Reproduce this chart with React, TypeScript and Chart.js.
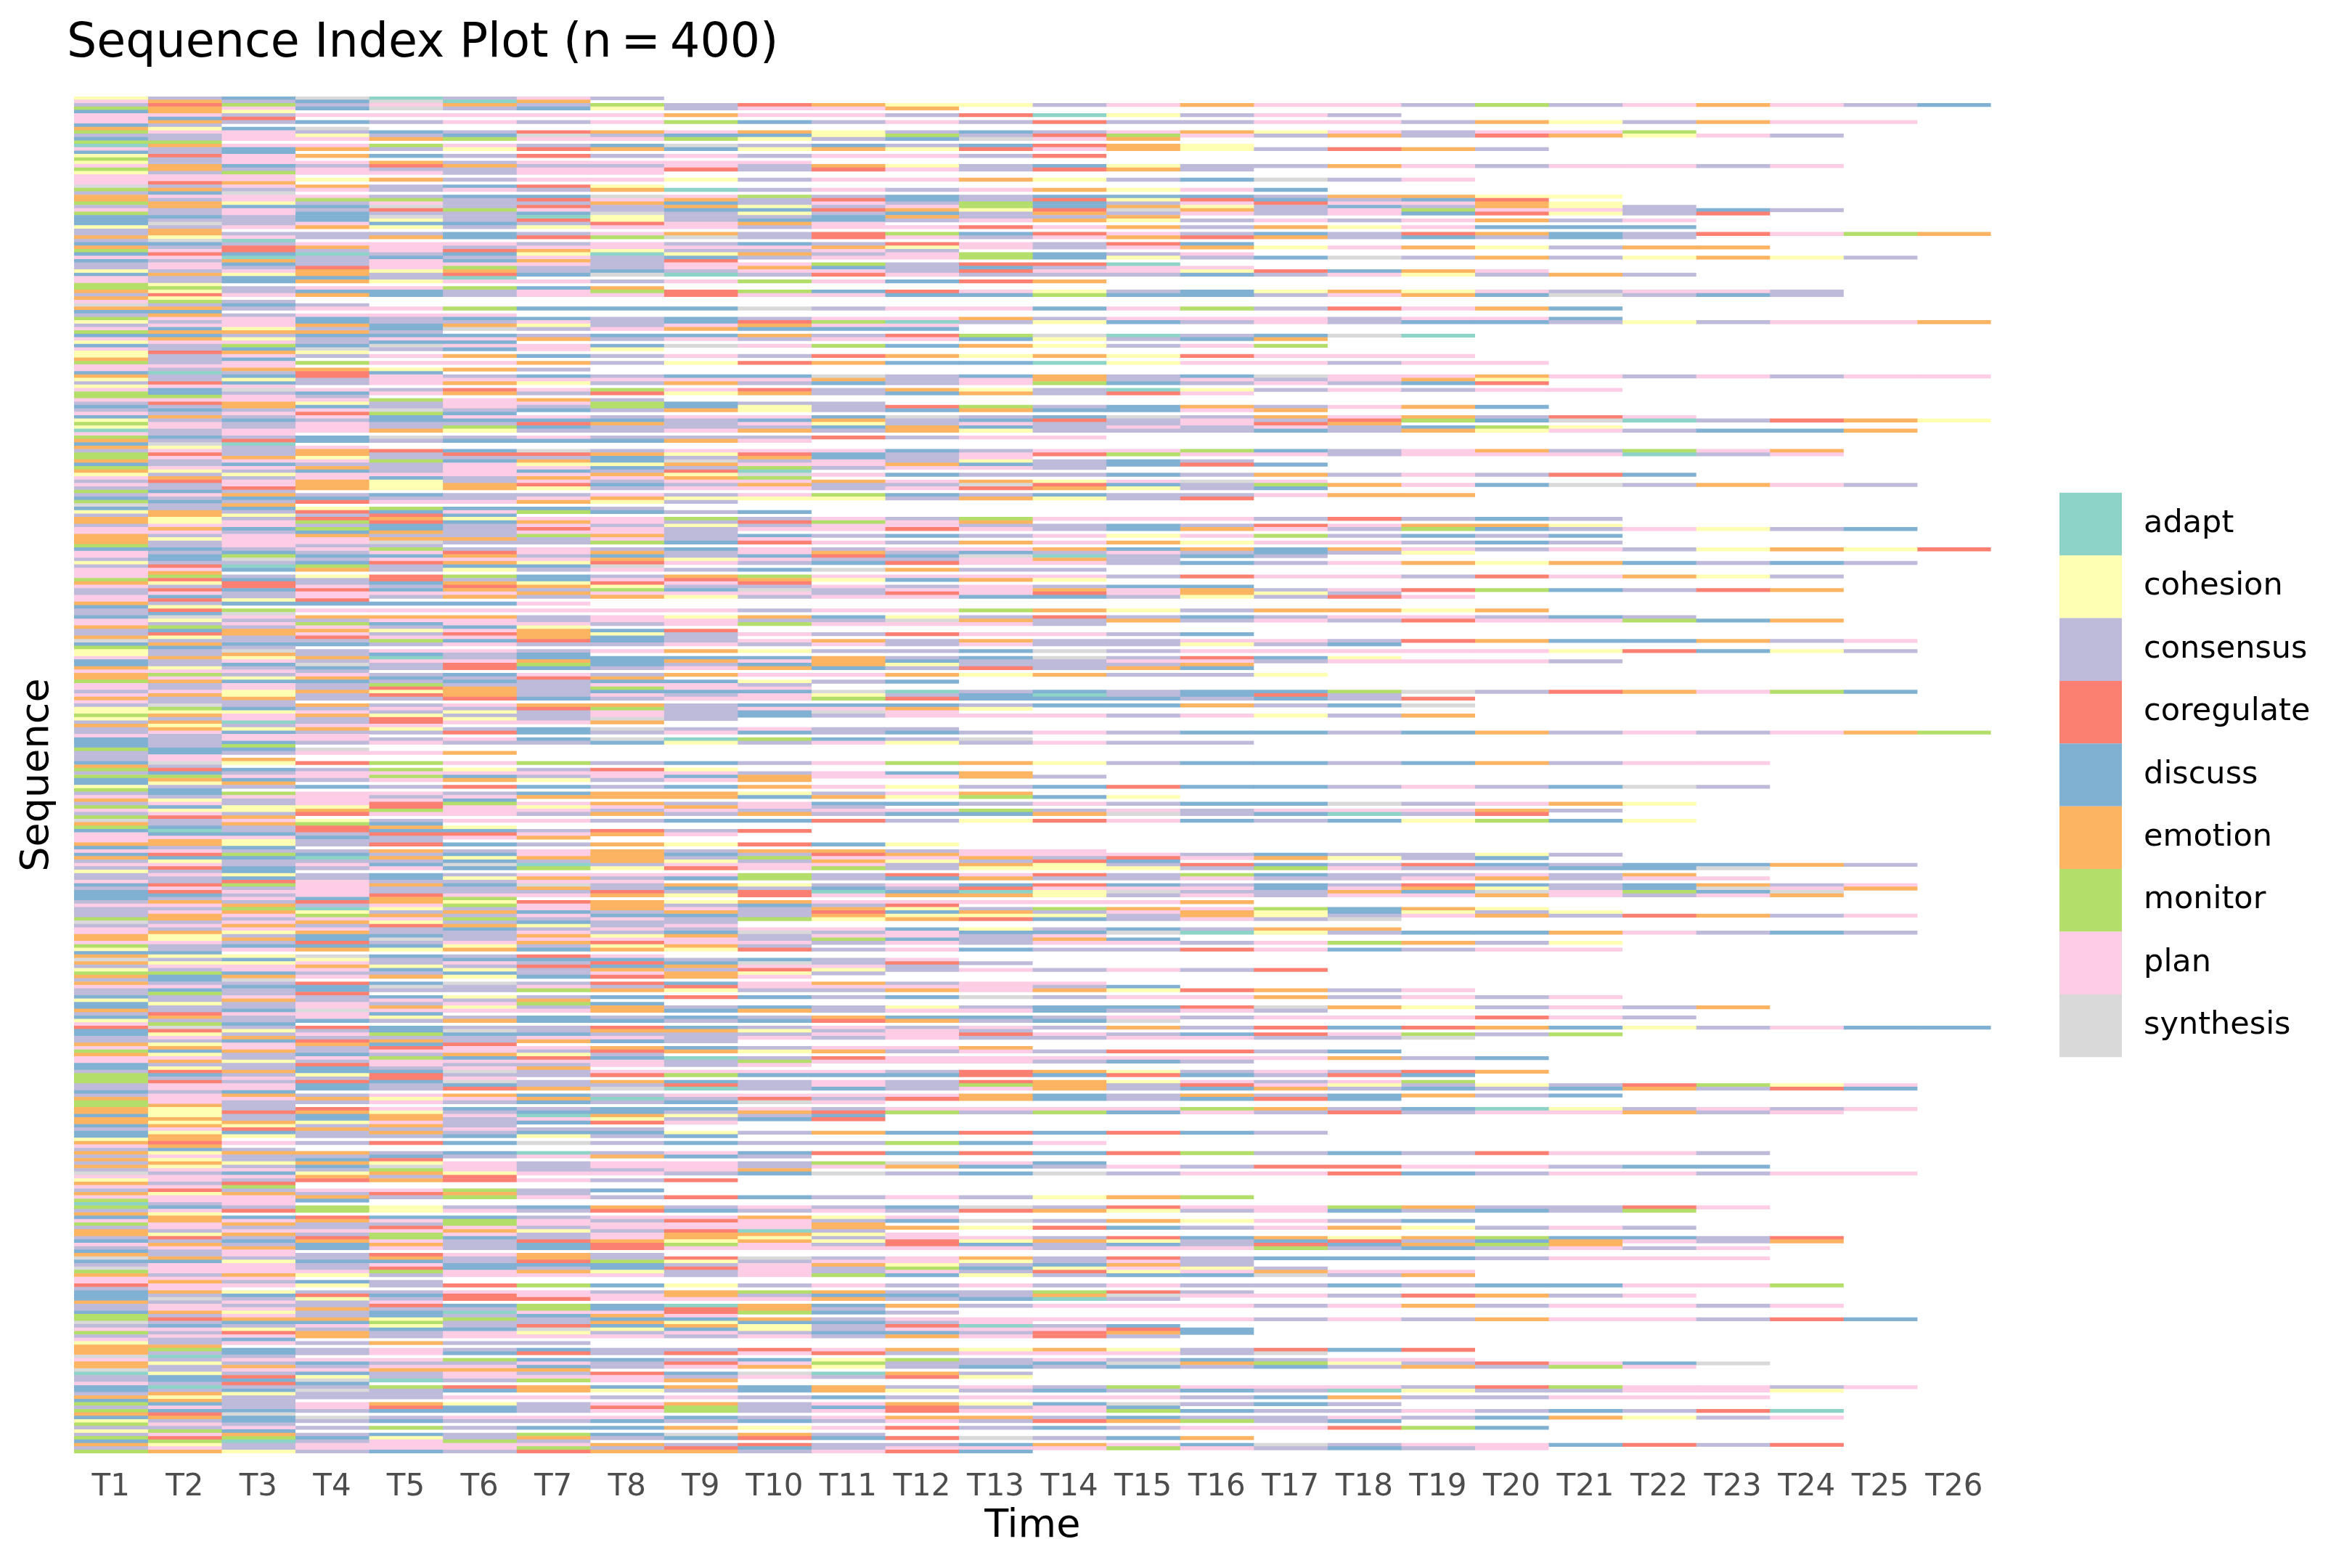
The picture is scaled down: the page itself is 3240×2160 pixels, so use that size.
import React, { useEffect, useRef } from "react";
import { Chart, registerables } from "chart.js";

Chart.register(...registerables);

const stateNames = ["adapt", "cohesion", "consensus", "coregulate", "discuss", "emotion", "monitor", "plan", "synthesis"];
const stateCodes = ["a", "y", "n", "r", "d", "e", "m", "p", "s"];
const stateColors = ["#8DD3C7", "#FFFFB3", "#BEBADA", "#FB8072", "#80B1D3", "#FDB462", "#B3DE69", "#FCCDE5", "#D9D9D9"];
const timeLabels = ["T1", "T2", "T3", "T4", "T5", "T6", "T7", "T8", "T9", "T10", "T11", "T12", "T13", "T14", "T15", "T16", "T17", "T18", "T19", "T20", "T21", "T22", "T23", "T24", "T25", "T26"];

// One string per sequence, one letter per time step (see stateCodes).
const sequences = [
"yndsanpn","pendsae","nrmnpenmnreyynpeppnmnpepnd","mepdsndynppe","dey","ppnpppppeppnraynpn","pdr","pendnpnpmdnpnrnnppneynepp","dn","eyds",
"mppndnrepeyndnpeypnppm","nnpyndsnddymnrmpnenreypn","dnppemppmyndspe","mm","aeppmpndsndndrey","pndenyredyeyrpeynren","dnd","yrpednrnpnppnr","mnp","ynppenpppp",
"pednrennpneyndynnepnppnp","menpnnpprnrpnren","ynmppnpp","ppp","pppyenppynppeyndsnp","pre","snpendry","menpnpneanpnpeypd","nds","epppnddspmndndddneeyy",
"enpmmnrpenrdnryrdndr","meynpnnednpnmdnprppey","neddsnrneynpmdeyndneyn","pnpnrmpnddreyrsenpmppndn","mnpdnndsnyndnenpnpdrynr","ddndsnaynndenne","dnndynrynddnpeynpnpenp","dsnpddnrpep","ynpeynyppnpprpeneypddd","ne",
"nennndnpenrmdrpndnrednrpme","eypnedrmsnrpnperendndn","nsa","ddnpppnpndnrpnrd","enrepnppppeypnpeypeynee","mprnpreynnpn","drdandyayenpmdnp","ppandnpndnppmdyndsnenyeyn","dnenpdenr","npdnpppnppmnrra",
"npnrpmnnpedndnpp","ynpeyendnppnrppyrdep","deyenrdsanrpnnndnpynen","pnddna","pndeyppnpmpdre","my","mmnppmde","eynddnpmrmdrpyndyeypnppn","nrpednpprppddmddnpedsndn","ey",
"pmn","sndn","eenppmdddsnppdpmnrped","dd","nenppp","mppdnddndnppenpppnppd","ynpdnnpndrmanydnpnddnynppe","nppedeynpepp","pdyndsnpeddd","meeen",
"ddndddnddenrmsandsa","peynppenpnppdynde","yppndd","dnmdsppdspmdeynpm","pndsndpy","yrey","ynpnpednpnreyeyrppp","end","mnpmppenyreddayppnpp","ppp",
"pneeyen","danrd","endrpndnddsndendsppepnpnpp","ynynppppppenpenpnpey","nrdnpeynendnpmdnpndr","ypp","pdspnrpmprneynaynpnpp","mdndpenryendenrp","mmpn","ppppmpen",
"nreynppmdnn","dnednpnmdynrmndenped","ndnpsndneyndeddpe","pnprmd","denpdppnppdsndsnepenrp","yndnddddndendrnpnrmdsanrey","mpnpnnrenpynpnnpre","ypnpnmdnnndednpnpndmy","anppeynnpeneynnndneypndde","pnp",
"mdndsnpnnnrnpp","enrdndddep","dsa","eynp","npnerdsnpppdnppmdnpenmpe","mrnenrreyrdnprmppnpppanp","mpeynnndnednp","enppmdedsnpnyndn","dndnnpyyeppedndrd","mppenppdnmnppn",
"eyndnpdnra","ynyppppeyspdnndnenpnrd","penpdnepem","nrpeynpnppepeypsp","pnpeyerdnennsrdnmepdsnepn","nnreyeynppnpreynd","mdn","npendnnpnpmdndnnpee","dnddnnpeyyyneynr","mdnrppeyn",
"sne","dndymddn","yenrdpmdnd","neynrd","eynreyppmnpnmpppnrndn","eypmrdepnrmpe","nppndnpnynppnndnrpeey","pedmdnrpnpprpndepnmdnpynd","ppndenppn","enpennmendndnpypmndnd",
"eyppeenpnp","enppsnnmdrpnepeyppndn","mnpnn","ddnpmnpndpnppededepnpnyeyr","pndnprpenpendnpndny","pdmddendndrdsandn","ndsnpppeypnnpen","ynndreyrpndrppndnpeyedndn","nramndds","ppdenynpndsenn",
"pe","pmnyrmdnemppppnrppnrpeyn","mrdnrndpreydey","eyrndeyrpr","pnrpnreynnpnpndd","nrdrdenmdsnppepenprmdnre","npnpppepppnrprpeyn","pdnpneneynppddnynrp","pryr","enddddp",
"dy","nrmppppppnppmeyneeye","nds","dspeeenpyedynrndnppndn","pynnppnppnnsenenpnrppmde","pnpmdppnpmpppn","emnpndy","ndeeypedr","nrepnreynpnrppnd","eynrppedn",
"snnnmdrdnpenennppnreddenp","deddnpnnpnpnpnnynd","mdn","ynsnppnpeynndsnpppppyrdyn","ynendnd","peyeanddddendsnrdy","dnpnppedepednnppnpppn","dndsnrmdndeynnne","eyndnrdnpednrned","pppn",
"emnpndpneppeyenny","epyednre","meddndnddynd","pnpnmnnppn","pnpnrenmpp","npyeyendddsandnddmsnrepmd","peynrenpnpyndandrn","enennrdnppmrdddndnr","pnn","nsnenpeendddnddends",
"ymdnpnrmnppey","yyypnynpndsp","mepeynnpndnpppnpyne","ynpnrynsn","neanrppe","eynpp","neyeyndsnpnn","npdnnrdnpdndnpnddndenpnpem","pnpp","dnppnpdsamdns",
"dndnpnndynpynpnn","dnm","mdds","ndnppe","np","npe","dsyrmpmndnpmeynddndenpp","en","mrdnmynry","ndnppppppnpde",
"mmppmdnpdeppen","dednpeynpe","dye","ynndnrdndepyndrddnpndsn","md","ndmppndeeynpe","pnppnpeeedeymdy","eynppd","npnprmpenpddnpnddsnpey","mdyyrpypepn",
"pyyemppnpnppmnpnpppen","npnrppnenenddesndanr","mre","snpynppnddrnyrpdndymdy","enemd","mdnrey","danrddnrnr","pddnrrpep","pppdnpe","peynn",
"eeynrdneyrdy","dnd","ppnnenpeneenpp","drmdndpednrepppndnnyn","eddaeyeenmppenrpeynd","nynnndneyneynrd","ppnpdsanpppneynrdnrdndden","nrdnpdmyrpmnyyynmpnndds","ynd","npyndnpppmnrprnmdnnpne",
"nndndyendmndennpnnpenpp","pnrpnnpp","drmpedsneynpdrdndnrdndenp","npnpnnendndnrpppdpeyndspe","drppnnnrnradaysnnedspmds","ddnprppeyrpeeynpnppepnpe","dnpdem","nenreyreyepppppe","ppenpmpendnr","nnmaynpepneynmepmdey",
"npeynednenrdenpeydyny","nepmenpddneyyyneynpenrenp","menppmnpnmyerdnpns","snpeyndnn","npenreynp","pnppndnpnppdyndnee","peyennpndsnpddsaynddepndn","eynddneyenppnp","eyedsnpppnmdned","ppnrnperppnpnppnpmeny",
"mndddynyen","ynpeyedeyrnpdnnrpdnpp","dd","eyysdnrp","sndyndddndnp","eyypnpnrdsnrn","nppeynrdeppn","ynppdynenrynpnpnr","mmdnndnpeyn","edepeydrep",
"nds","ennrdsnrdpenpp","ppddsnpnrppppnd","ndndnnmeynnepeyrenp","nmnr","dnpndyndrdndsnppenpnp","ynenpne","dynpnpmd","dnnpeynendnynddrseynpne","endspppedenppdnpn",
"nrppd","denpyndndneddnpnppprpn","ynndneddndrends","pmd","rsnrdnnrdnpnpnenrdredynpdd","dryndsneeynpn","dynpmddnnnpprpndrpmnm","npennnppnpnpnnppnns","nndrenedn","eypedr",
"pepnrppednppe","mdenppnreyenpnrrnd","eyndneyn","ppnpmdrdanrppppppend","peynppppnmpppndn","dnnrpnnpnp","dyndnpe","nreddsnppppnreynpnre","mdnyrnnrmdddrdrdnrd","mnpnrp",
"mrnrdsnednpnreypnpm","nppdndnnrnpnmenrpynynrmyp","nppdnresandnpendendndenrd","dnd","npenpednppppednendend","eppeypeanrnredndrd","mpnnpndndsp","men","eynrpdnddpnppppmendaynpnp","eyreynddnermnmdpnrnppenp",
"dyndepaeynd","eendenpyndr","eyeypndrp","deynen","nprenpnn","dydnenddynedrdrdn","deynndynd","ye","erpnrdsndnnmdp","pe",
"ndn","eyeendanpdrdrdrmndnrppn","npnndnpedn","eyndr","neyeypnppnmspd","eyndspnppnpednpnrrppndd","nppnmpnnpe","sndyeyppndsndsnpprdnppnpp","pppenr","ypnrerpnr",
"enr","ppm","nrnppmnd","eyenren","pppenmpnrdnpnyem","mppd","anp","mdnmyndenpndsnrppmennrp","nprmypnrdnpnreynpdndnm","ey",
"dedrddnppeyp","pepepmpnrpndsneypnd","mpennmppppe","npnnrpnpppeeyrdnpeynpn","enpppeynran","eyenmpnpeeyp","nrnrmdnpeynppnrdeyemddnr","dndepnreyeyryeyndrndepne","pendendrmpnrdndnrdeme","npedpndrpppppnppmndnpnp",
"dnp","enpnrpen","sennenenrsnpenrndddnppp","ddyddnrmynppynpn","nppnpdddnpeynden","sppnrdndrpnmdypyn","mpppmpeynpnpnrypepp","eneynpppnpmdynddsne","ppp","pendn",
"rppynrmdynpnpnpnndnddppm","np","deynnppnemennmrn","dndrdrppenddnesppnrenp","dsnynrrpppendan","enpnp","npnnrdmdaedenpppnpenppnp","nppennmdren","deyndapprmdn","mnpndndep",
"mreeymnddenpppppnpneppnrd","snddmnneyddnp","ndnpynrdeynrand","ppynddsydynppprd","mnrenpynpnddnred","nppenpppnpneprn","pnd","ynpnenn","ee","emdnpndnnrpeyeynrdr",
"endnpdrnrprnpppns","san","pnpppmddndymnpndnpp","eyndnnpnrpmnndsemynrpds","enenppdnpeyndndndnenmp","snppeee","ayndnpnrdsaen","ndrynpppnpnry","nddsanmpe","pnrd",
"dannmrededenpnmpppnrmppnp","dndsndeyndeyndndnaynnppy","neynn","eynnnppnpndnpppndennppp","den","mdnpeynpenpeydsndn","npnprdnrmndrnpd","mddnddnpmnprppmdnnpndnra","ers","dedsnpppdnpeendnnpndeynp",
"yndndnndndnpnremnd","mpn","nnpnmnddeyprndnpprmd","ymd","npendnmdsen","mrmdynendrdrsnde","dmanpmn","eynppppenrnndepdsnppdrnr","npnpppmnrdnpppmpndnp","meyndnreenprd",
];

const FONT = "'DejaVu Sans'";

const colorOf = (code: string) => stateColors[stateCodes.indexOf(code)];

export default function App() {
  const ref = useRef<HTMLCanvasElement | null>(null);
  useEffect(() => {
    if (!ref.current) return;
    const datasets = timeLabels.map((label, i) => ({
      label,
      data: sequences.map((s) => (s[i] ? 1 : null)),
      backgroundColor: sequences.map((s) => (s[i] ? colorOf(s[i]) : "rgba(0,0,0,0)")),
      borderWidth: 0,
      barPercentage: 1,
      categoryPercentage: 1,
    }));
    const shiftLegend = {
      id: "shiftLegend",
      afterLayout(chart: any) {
        const l = chart.legend;
        const dx = 2837 - l.left;
        l.left += dx;
        l.right += dx;
      },
    };
    const chart = new Chart(ref.current, {
      type: "bar",
      data: { labels: sequences.map((_, i) => String(i + 1)), datasets },
      plugins: [shiftLegend],
      options: {
        indexAxis: "y",
        animation: false,
        responsive: false,
        devicePixelRatio: 1,
        layout: { padding: { left: 92, top: 0, bottom: 25, right: 142 } },
        scales: {
          x: {
            type: "linear",
            stacked: true,
            min: 0,
            max: timeLabels.length,
            grid: { display: false },
            border: { display: false },
            afterBuildTicks: (s: any) => {
              s.ticks = timeLabels.map((_, i) => ({ value: i + 0.5 }));
            },
            afterFit: (s: any) => {
              s.height = 133;
            },
            ticks: {
              autoSkip: false,
              maxRotation: 0,
              padding: 14,
              color: "#4D4D4D",
              font: { family: FONT, size: 42 },
              callback: (v: any) => timeLabels[Math.floor(Number(v))],
            },
            title: { display: true, text: "Time", color: "#000", font: { family: FONT, size: 54 }, padding: { top: -11, bottom: 0 } },
          },
          y: {
            type: "category",
            stacked: true,
            grid: { display: false },
            border: { display: false },
            ticks: { display: false },
            afterFit: (s: any) => {
              s.width = 10;
            },
            title: { display: true, text: "Sequence", color: "#000", font: { family: FONT, size: 54 }, padding: { top: -72, bottom: 0 } },
          },
        },
        plugins: {
          title: {
            display: true,
            text: "Sequence Index Plot (n\u2009=\u2009400)",
            align: "start",
            color: "#000",
            font: { family: FONT, size: 65, weight: "normal" },
            padding: { top: 22.3, bottom: 32.7 },
          },
          tooltip: { enabled: false },
          legend: {
            display: true,
            position: "right",
            labels: {
              boxWidth: 86,
              boxHeight: 86.4,
              padding: 0,
              color: "#000",
              font: { family: FONT, size: 43 },
              generateLabels: () =>
                stateNames.map((name, i) => ({
                  text: "\u2009" + name,
                  fillStyle: stateColors[i],
                  strokeStyle: stateColors[i],
                  lineWidth: 0,
                  hidden: false,
                  datasetIndex: i,
                })),
            },
          },
        },
      },
    } as any);
    return () => chart.destroy();
  }, []);
  return (
    <div style={{ position: "fixed", left: 0, top: 0, width: 3240, height: 2160, background: "#fff" }}>
      <canvas ref={ref} width={3240} height={2160} style={{ display: "block", width: 3240, height: 2160 }} />
    </div>
  );
}
